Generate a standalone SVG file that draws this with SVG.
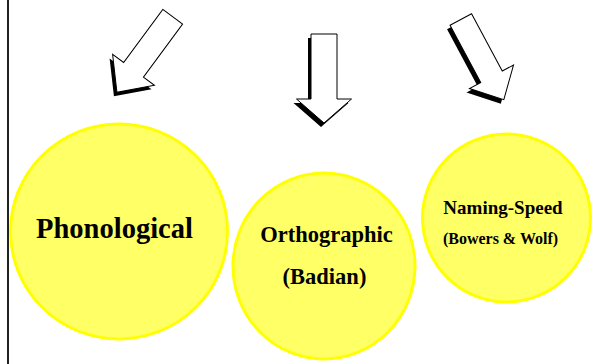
<svg xmlns="http://www.w3.org/2000/svg" width="592" height="364" viewBox="0 0 592 364">
  <style>
    .bubble { fill: #FFFF66; stroke: #FFFF00; stroke-width: 3; }
    .label { font-family: 'Liberation Serif', 'DejaVu Serif', serif; font-weight: bold; fill: #000; text-anchor: middle; }
    .arrow { fill: #FFFFFF; stroke: #000; stroke-width: 1; stroke-linejoin: miter; }
    .shadow { fill: #000; }
  </style>
  <defs>
    <polygon id="arrowA" points="-12.3,0 12.3,0 12.3,66 26,66 0,94 -26,66 -12.3,66"/>
    <polygon id="arrowB" points="-13,0 13,0 13,65 27.5,65 0,89 -27.5,65 -13,65"/>
    <polygon id="arrowC" points="-12.2,0 12.2,0 12.2,65 25,65 0,91 -25,65 -12.2,65"/>
  </defs>
  <rect width="592" height="364" fill="#FFFFFF"/>
  <line x1="8" y1="0" x2="8" y2="364" stroke="#222" stroke-width="2"/>

  <g id="connectors">
    <g id="arrow-phonological">
      <g transform="translate(-3,4)"><use href="#arrowA" class="shadow" transform="translate(172.7,16.7) rotate(36.4)"/></g>
      <use href="#arrowA" class="arrow" transform="translate(172.7,16.7) rotate(36.4)"/>
    </g>
    <g id="arrow-orthographic">
      <g transform="translate(-3,4)"><use href="#arrowB" class="shadow" transform="translate(324,34)"/></g>
      <use href="#arrowB" class="arrow" transform="translate(324,34)"/>
    </g>
    <g id="arrow-naming">
      <g transform="translate(-3,4)"><use href="#arrowC" class="shadow" transform="translate(460.8,19.5) rotate(-28.2)"/></g>
      <use href="#arrowC" class="arrow" transform="translate(460.8,19.5) rotate(-28.2)"/>
    </g>
  </g>

  <g id="node-phonological">
    <ellipse class="bubble" cx="119" cy="231.5" rx="108.5" ry="107.5"/>
    <text class="label" font-family="Liberation Serif, serif" x="114.5" y="238" font-size="28.5">Phonological</text>
  </g>
  <g id="node-orthographic">
    <ellipse class="bubble" cx="324" cy="266" rx="91" ry="93"/>
    <text class="label" font-family="Liberation Serif, serif" x="326.5" y="242" font-size="22.5">Orthographic</text>
    <text class="label" font-family="Liberation Serif, serif" x="324.5" y="284" font-size="22.5">(Badian)</text>
  </g>
  <g id="node-naming">
    <ellipse class="bubble" cx="506.5" cy="218" rx="84" ry="84"/>
    <text class="label" font-family="Liberation Serif, serif" x="503" y="214" font-size="19">Naming-Speed</text>
    <text class="label" font-family="Liberation Serif, serif" x="500.5" y="244" font-size="16">(Bowers &amp; Wolf)</text>
  </g>
</svg>
